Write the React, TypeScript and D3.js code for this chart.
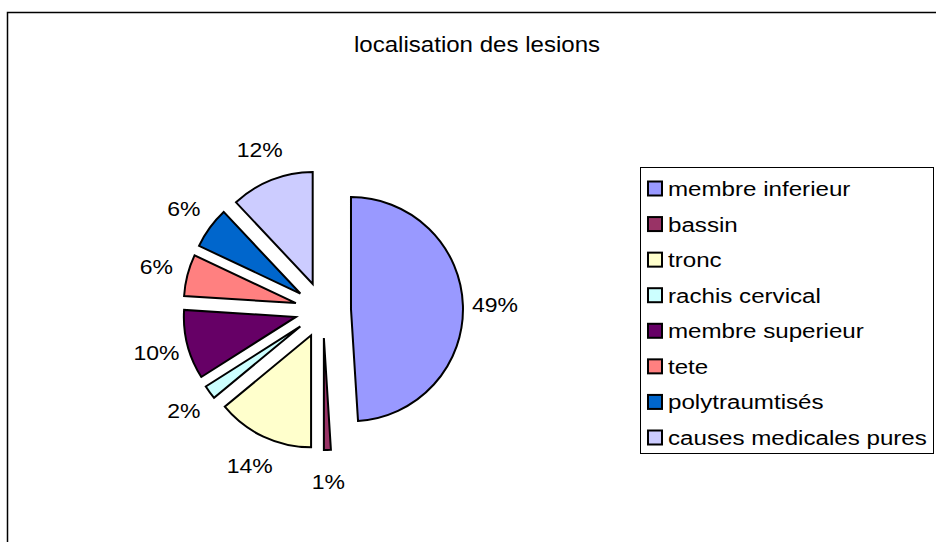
import React from "react";
import * as d3 from "d3";

const categories = [
  "membre inferieur",
  "bassin",
  "tronc",
  "rachis cervical",
  "membre superieur",
  "tete",
  "polytraumtisés",
  "causes medicales pures",
];
const values = [49, 1, 14, 2, 10, 6, 6, 12];
const colors = ["#9999FF", "#993366", "#FFFFCC", "#CCFFFF", "#660066", "#FF8080", "#0066CC", "#CCCCFF"];
const title = "localisation des lesions";

const W = 936;
const H = 542;
const cx = 323;
const cy = 310;
const R = 112;
const explode = 28;
const labelR = 144;

export default function App() {
  const pie = d3.pie<number>().sort(null).value((d) => d).startAngle(0).endAngle(2 * Math.PI);
  const arcs = pie(values);
  const arc = d3.arc<d3.PieArcDatum<number>>().innerRadius(0).outerRadius(R);
  const total = d3.sum(values);

  const legendY = d3.scaleLinear().domain([0, categories.length - 1]).range([188.5, 437.5]);

  return (
    <svg
      width={W}
      height={H}
      style={{ position: "absolute", left: 0, top: 0, background: "#fff" }}
      fontFamily="'Liberation Sans', Arial, sans-serif"
    >
      <rect x={0} y={0} width={W} height={H} fill="#fff" />
      <rect x={7.5} y={12.5} width={1200} height={800} fill="none" stroke="#000" strokeWidth={1.5} />
      <text
        transform={`translate(477,52) scale(1.12,1)`}
        textAnchor="middle"
        fontSize={21.5}
        fill="#000"
      >
        {title}
      </text>
      <g>
        {arcs.map((a, i) => {
          const mid = (a.startAngle + a.endAngle) / 2;
          const dx = Math.sin(mid) * explode;
          const dy = -Math.cos(mid) * explode;
          return (
            <path
              key={i}
              d={arc(a) || ""}
              transform={`translate(${cx + dx},${cy + dy})`}
              fill={colors[i]}
              stroke="#000"
              strokeWidth={2}
              strokeLinejoin="miter"
            />
          );
        })}
        {arcs.map((a, i) => {
          const mid = (a.startAngle + a.endAngle) / 2;
          const ux = Math.sin(mid);
          const uy = -Math.cos(mid);
          const x = cx + ux * (explode + labelR);
          const y = cy + uy * (explode + labelR);
          return (
            <text
              key={"l" + i}
              transform={`translate(${x},${y}) scale(1.15,1)`}
              textAnchor="middle"
              dominantBaseline="central"
              fontSize={20}
              fill="#000"
            >
              {Math.round((values[i] / total) * 100) + "%"}
            </text>
          );
        })}
      </g>
      <g>
        <rect x={640.5} y={167.5} width={293} height={286} fill="#fff" stroke="#000" strokeWidth={1} />
        {categories.map((c, i) => {
          const y = legendY(i);
          return (
            <g key={c}>
              <rect x={648} y={y - 7} width={14} height={14} fill={colors[i]} stroke="#000" strokeWidth={2} />
              <text transform={`translate(668,${y + 7.5}) scale(1.15,1)`} fontSize={21} fill="#000">
                {c}
              </text>
            </g>
          );
        })}
      </g>
    </svg>
  );
}
